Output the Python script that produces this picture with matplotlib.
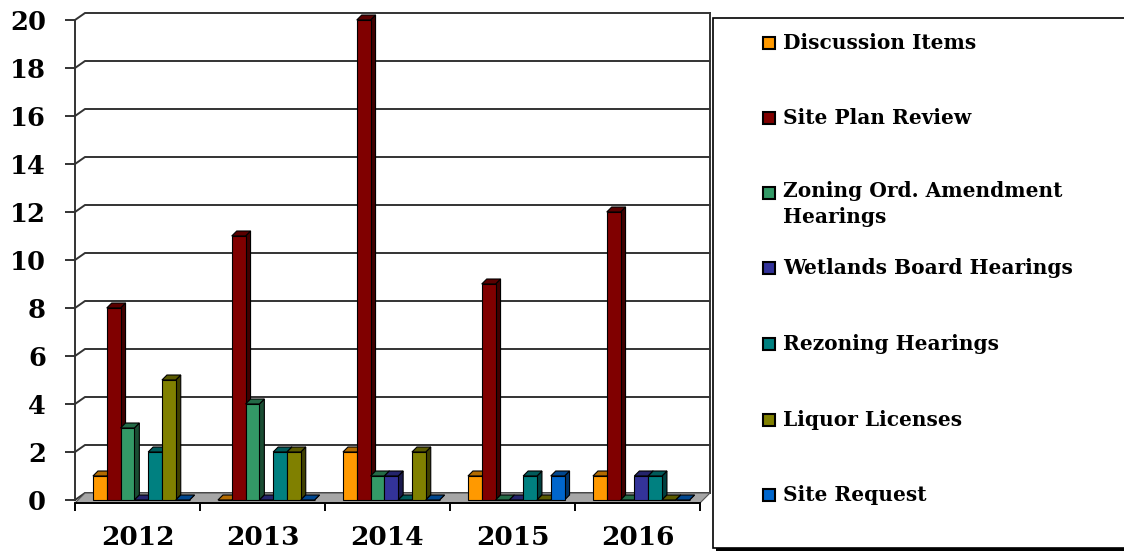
import numpy as np
import matplotlib
matplotlib.use('Agg')
import matplotlib.pyplot as plt
from matplotlib.patches import Polygon, Rectangle
from matplotlib.colors import to_rgb

# ── data ───────────────────────────────────────────────────────────
years = ["2012", "2013", "2014", "2015", "2016"]
series = [
    "Discussion Items",
    "Site Plan Review",
    "Zoning Ord. Amendment\nHearings",
    "Wetlands Board Hearings",
    "Rezoning Hearings",
    "Liquor Licenses",
    "Site Request",
]
discussion = [1, 0, 2, 1, 1]
site_plan = [8, 11, 20, 9, 12]
zoning = [3, 4, 1, 0, 0]
wetlands = [0, 0, 1, 0, 1]
rezoning = [2, 2, 0, 1, 1]
liquor = [5, 2, 2, 0, 0]
site_request = [0, 0, 0, 1, 0]
values = [discussion, site_plan, zoning, wetlands, rezoning, liquor, site_request]
colors = ["#FF9900", "#800000", "#339966", "#333399", "#008080", "#808000", "#0066CC"]

W, H = 1124, 551
FONT = "DejaVu Serif"

fig = plt.figure(figsize=(W / 100, H / 100), dpi=100)
fig.patch.set_facecolor('white')
# plot area: x 0..5 -> px 75..700, y 0..20 -> px 500..20
ax = fig.add_axes([75 / W, 1 - 500 / H, 625 / W, 480 / H])
ax.set_xlim(0, 5)
ax.set_ylim(0, 20)
ax.patch.set_visible(False)

# depth offsets in data units
wdx, wdy = 10 / 125, 7 / 24     # back wall
bdx, bdy = 5 / 125, 5 / 24      # bar depth

def shade(c, f):
    r, g, b = to_rgb(c)
    return (r * f, g * f, b * f)

# back wall grid lines
for v in range(0, 21, 2):
    ax.plot([0, wdx, 5 + wdx], [v, v + wdy, v + wdy], color='#333333', lw=1.4,
            zorder=1, clip_on=False, solid_joinstyle='miter')
ax.plot([5 + wdx, 5 + wdx], [wdy, 20 + wdy], color='#333333', lw=1.4, zorder=1, clip_on=False)

# floor
floor = Polygon([(0, -0.125), (5, -0.125), (5 + wdx, wdy), (wdx, wdy)], closed=True,
                facecolor='#A6A6A6', edgecolor='#555555', lw=0.8, zorder=2, clip_on=False)
ax.add_patch(floor)

# bars (front face + top + right side, to fake Excel's 3-D columns)
bw = 13.8 / 125
start = 0.5 + 0.03 - len(series) * bw / 2
for i in range(len(years)):
    for j, (vals, c) in enumerate(zip(values, colors)):
        x0 = i + start + j * bw
        v = vals[i]
        z = 3 + i + j * 0.01
        ax.bar(x0, v, width=bw, align='edge', color=c, edgecolor='black', lw=0.8,
               zorder=z, clip_on=False)
        top = Polygon([(x0, v), (x0 + bw, v), (x0 + bw + bdx, v + bdy), (x0 + bdx, v + bdy)],
                      closed=True, facecolor=shade(c, 0.7), edgecolor='black', lw=0.8,
                      zorder=z - 0.001, clip_on=False)
        side = Polygon([(x0 + bw, 0), (x0 + bw + bdx, bdy), (x0 + bw + bdx, v + bdy), (x0 + bw, v)],
                       closed=True, facecolor=shade(c, 0.5), edgecolor='black', lw=0.8,
                       zorder=z - 0.002, clip_on=False)
        ax.add_patch(side)
        ax.add_patch(top)

# axes styling
for s in ['top', 'right']:
    ax.spines[s].set_visible(False)
ax.spines['left'].set_linewidth(1.4)
ax.spines['left'].set_color('#333333')
ax.spines['bottom'].set_position(('data', -0.125))
ax.spines['bottom'].set_linewidth(1.4)
ax.set_yticks(range(0, 21, 2))
ax.set_yticklabels([str(v) for v in range(0, 21, 2)], fontsize=18.5, fontweight='bold',
                   family=FONT)
ax.tick_params(axis='y', length=7, width=1.4, color='#333333', pad=14)
ax.set_xticks(range(0, 6))
ax.set_xticklabels([])
ax.tick_params(axis='x', which='major', length=6, width=1.4, direction='out')
ax.set_xticks(np.arange(len(years)) + 0.5, minor=True)
ax.set_xticklabels(years, minor=True, fontsize=19, fontweight='bold', family=FONT)
ax.tick_params(axis='x', which='minor', length=0, pad=16)

# legend box with shadow
def fx(px):
    return px / W

def fy(py):
    return 1 - py / H

fig.patches.append(Rectangle((fx(716), fy(551)), fx(420), fy(21) - fy(551), transform=fig.transFigure,
                             facecolor='black', edgecolor='none', zorder=1))
fig.patches.append(Rectangle((fx(713), fy(548)), fx(420), fy(18) - fy(548), transform=fig.transFigure,
                             facecolor='white', edgecolor='black', lw=1.2, zorder=2))

legend_y = [43, 118, 193, 268, 344, 420, 495]
for name, c, py in zip(series, colors, legend_y):
    fig.patches.append(Rectangle((fx(763), fy(py + 6)), fx(12), fy(py - 6) - fy(py + 6),
                                 transform=fig.transFigure, facecolor=c, edgecolor='black',
                                 lw=1.5, zorder=3))
    if '\n' in name:
        fig.text(fx(783), fy(py - 12), name, fontsize=14.5, fontweight='bold', family=FONT,
                 va='top', ha='left', linespacing=1.4)
    else:
        fig.text(fx(783), fy(py), name, fontsize=14.5, fontweight='bold', family=FONT,
                 va='center', ha='left')

fig.savefig("out.png", dpi=100)
